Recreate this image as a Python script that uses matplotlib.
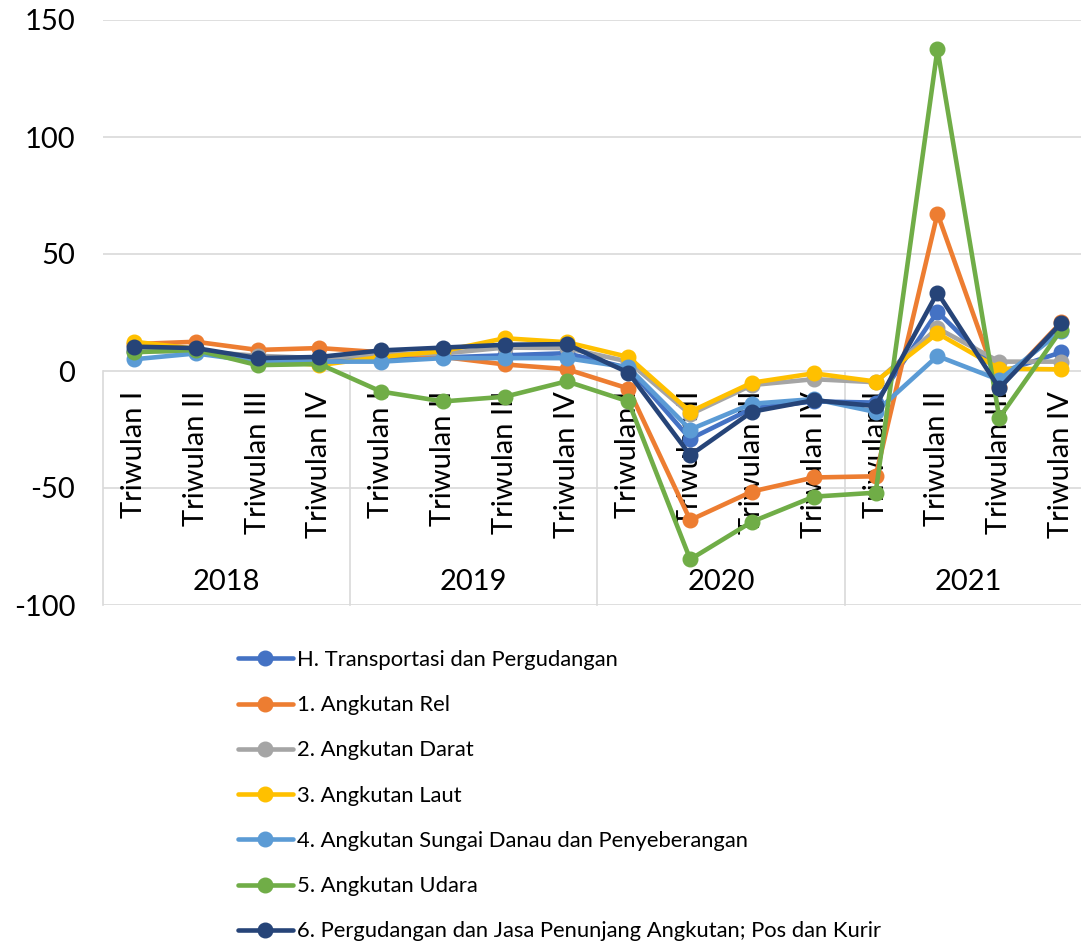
import matplotlib
matplotlib.use('Agg')
import matplotlib.pyplot as plt
import numpy as np

# quarterly growth (%)
years = ['2018', '2019', '2020', '2021']
quarters = ['Triwulan I', 'Triwulan II', 'Triwulan III', 'Triwulan IV']

series_names = [
    'H. Transportasi dan Pergudangan',
    '1. Angkutan Rel',
    '2. Angkutan Darat',
    '3. Angkutan Laut',
    '4. Angkutan Sungai Danau dan Penyeberangan',
    '5. Angkutan Udara',
    '6. Pergudangan dan Jasa Penunjang Angkutan; Pos dan Kurir',
]

transportasi = [8.6, 8.6, 5.6, 5.2, 5.3, 5.8, 6.7, 7.6, 1.3, -29.0, -16.0, -13.0, -13.5, 25.3, -0.7, 8.0]
rel = [11.5, 12.5, 9.0, 9.8, 8.0, 6.0, 2.8, 0.8, -7.5, -63.7, -51.5, -45.5, -45.0, 67.3, -7.0, 20.8]
darat = [8.5, 8.5, 6.5, 5.5, 7.0, 7.5, 10.0, 9.8, 4.0, -18.5, -6.0, -3.5, -4.8, 18.3, 4.0, 4.0]
laut = [12.5, 9.5, 5.0, 2.5, 6.0, 8.5, 14.0, 12.3, 6.0, -17.4, -5.0, -1.0, -4.5, 16.1, 1.0, 0.7]
sungai = [5.0, 7.5, 4.0, 4.0, 4.0, 5.5, 5.5, 5.5, 1.5, -25.0, -14.0, -12.0, -17.5, 6.4, -3.8, 17.0]
udara = [8.0, 9.0, 2.5, 3.0, -8.8, -13.0, -11.0, -4.4, -13.0, -80.5, -64.4, -53.7, -52.0, 137.5, -20.0, 17.5]
pergudangan = [10.4, 9.8, 5.5, 6.0, 8.8, 10.0, 11.2, 11.5, -0.7, -36.0, -17.4, -12.5, -15.0, 33.5, -7.4, 20.4]

all_series = [transportasi, rel, darat, laut, sungai, udara, pergudangan]
colors = ['#4472C4', '#ED7D31', '#A5A5A5', '#FFC000', '#5B9BD5', '#70AD47', '#264478']

plt.rcParams['font.family'] = ['Lato', 'DejaVu Sans']
plt.rcParams['axes.unicode_minus'] = False

fig = plt.figure(figsize=(10.81, 9.44), dpi=100)
ax = fig.add_axes([103 / 1081, 1 - 605 / 944, (1092 - 103) / 1081, (605 - 20) / 944])

x = np.arange(len(years) * len(quarters))
handles = []
for vals, name, col in zip(all_series, series_names, colors):
    h, = ax.plot(x, vals, color=col, lw=3.3, marker='o', markersize=10.5,
                 label=name, zorder=3, solid_capstyle='round')
    handles.append(h)

ax.set_xlim(-0.5, len(x) - 0.5)
ax.set_ylim(-100, 150)
ax.set_yticks([-100, -50, 0, 50, 100, 150])
ax.tick_params(axis='y', length=0, pad=20, labelsize=21)
ax.set_xticks([])
for s in ax.spines.values():
    s.set_visible(False)

grid_c = '#D9D9D9'
for yv in [-100, -50, 0, 50, 100, 150]:
    ax.axhline(yv, color=grid_c, lw=1.2, zorder=1)

# multi-level category axis hanging below zero
for b in np.arange(-0.5, len(x), 4):
    ax.plot([b, b], [0, -100], color=grid_c, lw=1.2, zorder=1, clip_on=False)

for i in x:
    ax.text(i, -8.5, quarters[i % 4], rotation=90, ha='center', va='top',
            fontsize=21, color='black', zorder=2)
for j, yr in enumerate(years):
    ax.text(j * 4 + 1.5, -90, yr, ha='center', va='center', fontsize=21, color='black')

fig.legend(handles=handles, loc='upper left', bbox_to_anchor=(238 / 1081, 1 - 650 / 944),
           frameon=False, fontsize=15.8, handlelength=2.5, handletextpad=0.2,
           labelspacing=1.15, borderaxespad=0, borderpad=0)

fig.savefig('out.png', dpi=100, facecolor='white')
